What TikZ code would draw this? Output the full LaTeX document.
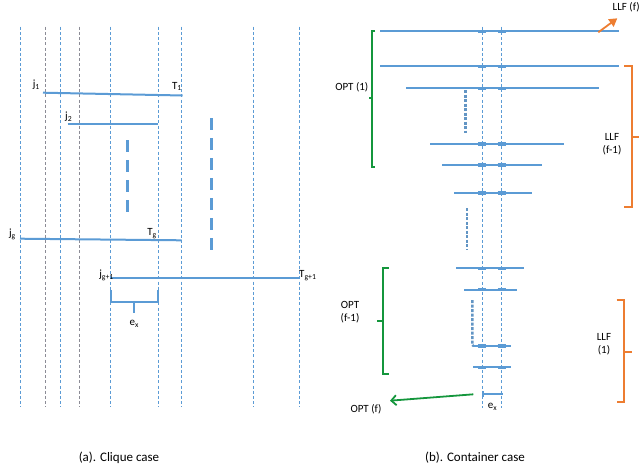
\documentclass[tikz,border=0pt]{standalone}
\usepackage{fontspec}
\setmainfont{Carlito}
\usetikzlibrary{arrows.meta}
\definecolor{bl}{RGB}{91,155,213}
\definecolor{gl}{RGB}{140,140,150}
\definecolor{gr}{RGB}{20,150,60}
\definecolor{org}{RGB}{237,125,49}
\tikzset{
  vline/.style={bl, line width=0.8pt, dash pattern=on 3pt off 2.2pt},
  gline/.style={gl, line width=0.8pt, dash pattern=on 3pt off 2.2pt},
  jobbar/.style={bl, line width=2pt},
  bartick/.style={bl, line width=3.5pt},
  bigdash/.style={bl, line width=3pt, dash pattern=on 12pt off 8pt},
  dotseg/.style={bl!80!gray, line width=2.5pt, dash pattern=on 3pt off 1.5pt},
  lab/.style={font=\fontsize{11}{13}\selectfont, inner sep=0pt, align=center},
  captext/.style={font=\fontsize{13}{15}\selectfont, inner sep=0pt},
  gbr/.style={gr, line width=1.8pt},
  obr/.style={org, line width=1.8pt},
}
\begin{document}
\begin{tikzpicture}[x=1pt,y=-1pt]
\useasboundingbox (0,0) rectangle (639,471);
% ---------- left panel: vertical lines
\foreach \x/\s in {20.7/vline,45.3/gline,60.3/vline,79.3/gline,110.7/vline,158/vline,181.7/vline,253.7/vline,299.7/vline}{
  \draw[\s] (\x,26.7) -- (\x,406.7);
}
% horizontal job lines
\coordinate (a1) at (43,92.7); \coordinate (b1) at (182.7,95.5);
\draw[jobbar] (a1) -- (b1);
\node[lab, anchor=south east] (j1) at (40,90) {j\textsubscript{1}};
\node[lab, anchor=south] (t1) at (177,91) {T\textsubscript{1}};
\coordinate (a2) at (67.7,124); \coordinate (b2) at (157.7,124);
\draw[jobbar] (a2) -- (b2);
\node[lab, anchor=south west] (j2) at (65,122) {j\textsubscript{2}};
\coordinate (ag) at (20,238.7); \coordinate (bg) at (181.7,240.3);
\draw[jobbar] (ag) -- (bg);
\node[lab, anchor=south east] (jg) at (16,240) {j\textsubscript{g}};
\node[lab, anchor=south] (tg) at (152,239) {T\textsubscript{g}};
\coordinate (ah) at (110,278); \coordinate (bh) at (300,278);
\draw[jobbar] (ah) -- (bh);
\node[lab, anchor=south east] (jh) at (114,281) {j\textsubscript{g+1}};
\node[lab, anchor=south west] (th) at (299,281) {T\textsubscript{g+1}};
% brace e_x
\coordinate (bl1) at (110.7,290); \coordinate (bl2) at (158,290);
\draw[bl, line width=2pt, line join=round] (bl1) -- (110.7,301.5) -- (134.3,301.5) -- (134.3,313)
  (134.3,301.5) -- (158,301.5) -- (bl2);
\node[lab, anchor=north] (ex1) at (134.3,320) {e\textsubscript{x}};
% big dashes
\draw[bigdash] (127.7,140) -- (127.7,214);
\draw[bigdash] (211,118) -- (211,252);
\node[captext] (capa) at (119,458) {(a). Clique case};
% ---------- right panel
\draw[vline] (482.3,26.7) -- (482.3,408);
\draw[vline] (501.7,26.7) -- (501.7,408);
\foreach \y/\l/\r [count=\i] in {31.3/380/619, 66.3/380/619, 88.3/406/599, 144/430/563.7, 165/442.3/541.7, 193/454/532, 268.3/456/524, 289.7/464/516.7, 346/473.3/510.7, 367.3/473.3/510.7}{
  \coordinate (L\i) at (\l,\y); \coordinate (R\i) at (\r,\y);
  \draw[jobbar] (L\i) -- (R\i);
  \draw[bartick] (478.3,\y) -- (486.3,\y);
  \draw[bartick] (497.7,\y) -- (505.7,\y);
}
\coordinate (e1) at (482.3,394.3); \coordinate (e2) at (502.7,394.3);
\draw[bl, line width=1.8pt, {Bar[width=6pt]}-] (e1) -- (e2);
\node[lab, anchor=north] (ex2) at (492.5,403) {e\textsubscript{x}};
% dotted segments
\draw[dotseg] (465.3,90) -- (465.3,133.3);
\draw[dotseg] (467,208.3) -- (467,249.3);
\draw[dotseg] (472.3,300) -- (472.3,345) -- (L9);
% green braces
\draw[gbr] (375,31.3) -- (371.7,31.3) -- (371.7,166.7) -- (375,166.7);
\draw[gbr] (371.7,98.3) -- (368.5,98.3);
\node[lab, anchor=east] (opt1) at (368.5,87.3) {OPT (1)};
\draw[gbr] (389,268.3) -- (383.3,268.3) -- (383.3,374) -- (389,374);
\draw[gbr] (383.3,321) -- (377.3,321);
\node[lab] (optf1) at (350,312) {OPT\\(f-1)};
% orange braces
\draw[obr] (624,66.3) -- (632.3,66.3) -- (632.3,206.7) -- (624,206.7);
\draw[obr] (632.3,136.7) -- (640,136.7);
\node[lab] (llff1) at (612,144) {LLF\\(f-1)};
\draw[obr] (616.7,300) -- (624,300) -- (624,401.7) -- (616.7,401.7);
\draw[obr] (624,351.7) -- (632,351.7);
\node[lab] (llf1) at (604,344) {LLF\\(1)};
% arrows
\coordinate (oa1) at (598.3,32.3); \coordinate (oa2) at (617.3,18.3);
\draw[org, line width=1.8pt, -{Triangle[length=8pt,width=9pt]}] (oa1) -- (oa2);
\node[lab, anchor=west] (llff) at (612.5,7.3) {LLF (f)};
\coordinate (ga1) at (473.3,394.3); \coordinate (ga2) at (390,400.7);
\draw[gr, line width=1.8pt, -{Straight Barb[length=5pt,width=10pt]}] (ga1) -- (ga2);
\node[lab] (optf) at (366,409.3) {OPT (f)};
\node[captext] (capb) at (475,458) {(b). Container case};
\end{tikzpicture}
\end{document}
